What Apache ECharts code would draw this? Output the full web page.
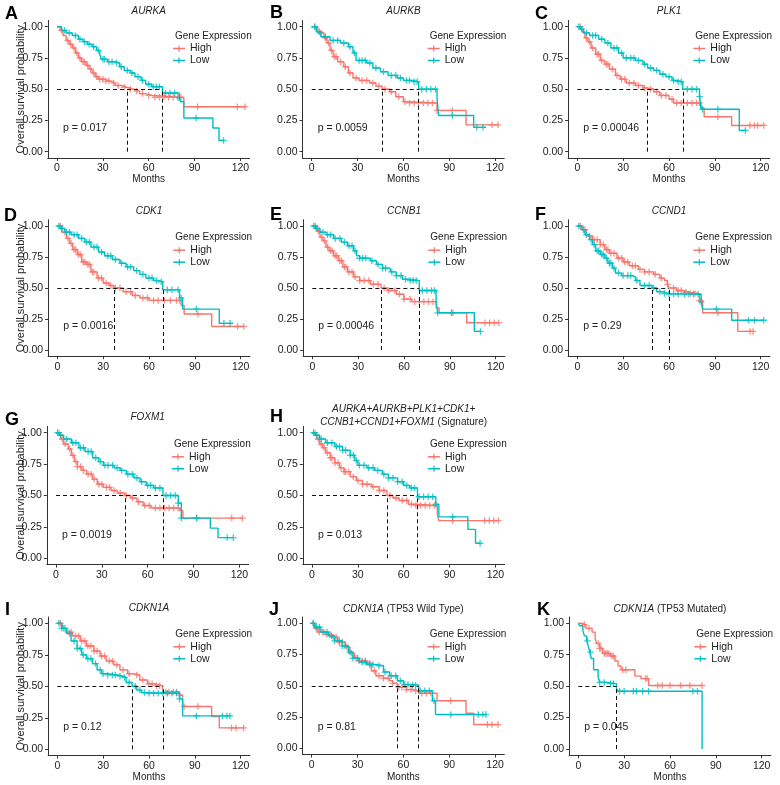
<!DOCTYPE html>
<html><head><meta charset="utf-8">
<script src="https://cdn.jsdelivr.net/npm/echarts@6/dist/echarts.min.js"></script>
<style>html,body{margin:0;padding:0;background:#fff}#c{width:780px;height:785px}</style>
</head><body><div id="c"></div>
<script>
// ---------- tick labels ----------
const xTicks = [0, 30, 60, 90, 120];
const yTicks = [0, 0.25, 0.5, 0.75, 1];

// ---------- survival curves: [months, survival after drop] ----------
const aurkaHigh = [[0,1],[2,0.97],[4,0.93],[6,0.89],[8,0.86],[10,0.83],[12,0.79],[14,0.75],[16,0.72],[19,0.69],[21,0.66],[23,0.63],[25,0.60],[27,0.58],[31,0.565],[35,0.55],[38,0.53],[42,0.515],[46,0.50],[50,0.485],[54,0.465],[58,0.45],[62,0.435],[83,0.36],[123,0.36]];
const aurkaLow = [[0,1],[3,0.97],[6,0.95],[10,0.93],[14,0.9],[17,0.88],[20,0.86],[23,0.84],[26,0.81],[28,0.78],[29,0.74],[33,0.72],[38,0.71],[41,0.68],[44,0.65],[48,0.63],[51,0.6],[55,0.57],[58,0.54],[62,0.52],[69,0.47],[80,0.43],[81,0.4],[83,0.27],[102,0.19],[106,0.09],[109,0.09]];
const aurkaHighCens = [3,7,9,11,13,15,17,18,20,22,24,26,28,30,32,34,37,40,44,48,52,56,60,64,67,70,73,76,79,81,92,118,123];
const aurkaLowCens = [5,8,12,15,18,21,24,27,30,31,34,36,39,42,46,49,53,56,60,63,65,67,71,74,77,80,91,109];

const aurkbHigh = [[0,1],[4,0.95],[8,0.91],[10,0.87],[12,0.81],[14,0.76],[17,0.72],[21,0.68],[24,0.63],[27,0.59],[31,0.57],[38,0.55],[42,0.525],[46,0.5],[51,0.48],[55,0.44],[60,0.4],[63,0.39],[82,0.33],[101,0.215],[122,0.215]];
const aurkbLow = [[0,1],[3,0.96],[6,0.92],[12,0.89],[19,0.87],[24,0.84],[27,0.79],[29,0.73],[36,0.71],[40,0.67],[45,0.64],[50,0.61],[56,0.59],[60,0.57],[66,0.56],[70,0.5],[82,0.43],[83,0.29],[106,0.195],[114,0.195]];
const aurkbHighCens = [2,6,9,11,13,15,16,19,22,25,29,33,36,40,44,48,52,57,61,64,67,70,73,76,79,82,92,118,122];
const aurkbLowCens = [2,5,9,14,17,21,25,28,31,33,35,38,42,47,52,55,58,62,64,67,69,72,75,78,81,92,108,112];

const plk1High = [[0,1],[3,0.96],[5,0.91],[7,0.88],[9,0.83],[12,0.78],[15,0.73],[18,0.7],[21,0.66],[25,0.61],[28,0.58],[32,0.55],[38,0.53],[43,0.51],[46,0.5],[50,0.48],[54,0.45],[60,0.42],[63,0.39],[81,0.35],[83,0.28],[101,0.21],[122,0.21]];
const plk1Low = [[0,1],[2,0.98],[4,0.95],[8,0.93],[14,0.9],[18,0.87],[22,0.83],[27,0.79],[30,0.75],[38,0.73],[43,0.7],[46,0.67],[50,0.65],[54,0.62],[58,0.6],[62,0.57],[65,0.56],[69,0.5],[80,0.44],[81,0.34],[106,0.17],[110,0.17]];
const plk1HighCens = [2,6,8,10,13,14,16,19,20,23,26,29,31,34,37,40,44,48,52,55,58,62,65,68,72,75,78,80,92,113,116,118,122];
const plk1LowCens = [1,3,6,10,12,16,20,24,26,29,32,35,37,40,44,48,52,56,60,63,66,68,72,75,78,80,82,92,110];

const cdk1High = [[0,1],[3,0.95],[6,0.9],[8,0.86],[10,0.81],[13,0.77],[16,0.71],[19,0.69],[22,0.63],[26,0.58],[30,0.54],[34,0.52],[37,0.5],[43,0.47],[49,0.44],[54,0.42],[60,0.4],[81,0.36],[83,0.29],[101,0.19],[122,0.19]];
const cdk1Low = [[0,1],[2,0.98],[5,0.95],[9,0.93],[14,0.9],[18,0.87],[22,0.83],[27,0.79],[31,0.76],[36,0.73],[41,0.7],[45,0.67],[50,0.64],[54,0.61],[58,0.58],[63,0.56],[66,0.55],[69,0.485],[80,0.42],[82,0.33],[106,0.215],[115,0.215]];
const cdk1HighCens = [2,5,7,9,11,12,14,15,17,18,20,21,23,24,27,29,32,35,38,41,45,48,51,56,59,63,66,70,74,78,80,92,118,122];
const cdk1LowCens = [1,3,6,8,11,13,16,19,21,24,26,29,33,35,38,42,46,48,52,56,60,62,65,68,72,75,79,81,91,109,113];

const ccnb1High = [[0,1],[3,0.96],[5,0.91],[7,0.88],[9,0.83],[11,0.8],[14,0.76],[17,0.72],[20,0.67],[23,0.63],[27,0.59],[31,0.56],[38,0.53],[45,0.5],[49,0.48],[55,0.45],[60,0.41],[65,0.39],[81,0.34],[83,0.3],[101,0.22],[122,0.22]];
const ccnb1Low = [[0,1],[2,0.98],[5,0.95],[9,0.93],[14,0.9],[19,0.87],[23,0.84],[27,0.8],[29,0.76],[31,0.74],[38,0.72],[42,0.69],[46,0.66],[51,0.63],[55,0.6],[59,0.57],[64,0.56],[70,0.48],[81,0.4],[82,0.3],[106,0.15],[110,0.15]];
const ccnb1HighCens = [2,4,6,8,10,12,13,15,16,18,19,21,22,24,26,28,31,34,37,40,43,47,50,54,57,60,64,67,70,73,76,79,92,113,116,119,122];
const ccnb1LowCens = [1,3,7,10,12,15,18,21,24,26,28,31,33,35,39,43,46,48,52,55,58,61,64,66,68,72,75,78,80,82,91,110];

const ccnd1High = [[0,1],[3,0.97],[6,0.92],[10,0.89],[15,0.85],[18,0.81],[21,0.78],[26,0.74],[30,0.71],[34,0.68],[40,0.65],[44,0.63],[50,0.61],[54,0.58],[57,0.56],[59,0.53],[60,0.5],[65,0.48],[69,0.465],[74,0.455],[80,0.4],[82,0.3],[105,0.15],[115,0.15]];
const ccnd1Low = [[0,1],[3,0.97],[5,0.93],[8,0.89],[10,0.85],[12,0.8],[15,0.77],[18,0.74],[20,0.7],[23,0.66],[25,0.62],[29,0.6],[36,0.59],[38,0.56],[41,0.52],[49,0.5],[52,0.47],[56,0.455],[60,0.45],[81,0.39],[82,0.33],[101,0.24],[122,0.24]];
const ccnd1HighCens = [2,5,8,11,13,15,17,19,20,22,24,27,29,31,33,36,38,41,44,47,51,55,59,63,66,68,71,74,77,80,92,113,115];
const ccnd1LowCens = [1,4,6,9,11,13,14,16,17,19,21,22,24,27,30,33,35,39,44,47,50,54,57,60,63,66,70,73,76,79,81,91,112,116,122];

const foxm1High = [[0,1],[3,0.95],[5,0.91],[8,0.87],[10,0.82],[12,0.77],[14,0.73],[17,0.7],[20,0.67],[24,0.63],[27,0.59],[31,0.565],[36,0.54],[40,0.52],[45,0.5],[49,0.48],[53,0.45],[57,0.42],[62,0.4],[81,0.38],[83,0.32],[122,0.32]];
const foxm1Low = [[0,1],[2,0.98],[5,0.95],[10,0.92],[15,0.88],[19,0.85],[24,0.8],[28,0.77],[31,0.74],[38,0.72],[42,0.7],[46,0.67],[51,0.64],[55,0.61],[59,0.58],[64,0.56],[70,0.5],[80,0.44],[82,0.32],[101,0.24],[106,0.165],[116,0.165]];
const foxm1HighCens = [2,4,6,9,11,13,14,16,18,21,23,25,28,30,33,35,38,42,46,50,54,58,61,65,68,71,74,77,80,92,115,122];
const foxm1LowCens = [1,3,7,11,13,16,18,21,23,26,29,32,34,37,40,43,47,50,53,56,60,62,65,68,72,75,78,80,82,92,112,116];

const sigHigh = [[0,1],[3,0.95],[5,0.91],[7,0.88],[9,0.84],[12,0.8],[15,0.76],[18,0.72],[21,0.69],[25,0.65],[29,0.62],[33,0.59],[39,0.57],[44,0.54],[49,0.5],[53,0.48],[57,0.46],[63,0.43],[68,0.42],[82,0.35],[83,0.3],[122,0.3]];
const sigLow = [[0,1],[2,0.98],[5,0.95],[9,0.92],[15,0.89],[20,0.86],[25,0.82],[28,0.78],[30,0.74],[36,0.72],[41,0.7],[46,0.67],[50,0.64],[56,0.61],[60,0.58],[64,0.56],[69,0.49],[81,0.43],[83,0.33],[102,0.23],[107,0.12],[110,0.12]];
const sigHighCens = [2,4,6,8,10,12,13,15,17,19,21,22,24,27,30,33,36,40,44,47,51,55,59,62,65,68,71,74,77,80,92,113,116,119,122];
const sigLowCens = [1,3,6,10,13,16,18,20,22,25,27,29,31,34,37,40,43,47,50,53,56,59,62,65,67,70,73,76,79,81,92,110];

const cdkn1aHigh = [[0,1],[3,0.96],[6,0.93],[10,0.9],[15,0.86],[19,0.82],[24,0.78],[28,0.74],[32,0.7],[37,0.67],[41,0.63],[46,0.6],[50,0.59],[54,0.55],[59,0.52],[63,0.505],[69,0.455],[80,0.43],[82,0.34],[101,0.26],[106,0.17],[122,0.17]];
const cdkn1aLow = [[0,1],[3,0.96],[6,0.92],[9,0.86],[13,0.8],[16,0.75],[19,0.72],[23,0.68],[26,0.63],[29,0.6],[33,0.59],[39,0.58],[43,0.57],[45,0.53],[49,0.5],[52,0.47],[55,0.45],[58,0.445],[80,0.4],[82,0.265],[113,0.265]];
const cdkn1aHighCens = [2,4,7,9,12,14,16,18,20,22,24,26,29,31,34,36,39,43,47,52,56,60,62,65,67,71,73,76,78,80,83,92,114,117,122];
const cdkn1aLowCens = [1,3,5,8,11,13,15,17,20,22,25,28,30,33,36,38,41,44,47,51,54,57,60,63,66,69,72,75,78,80,91,108,111,113];

const tp53wtHigh = [[0,1],[2,0.96],[4,0.93],[9,0.91],[13,0.89],[17,0.85],[22,0.81],[25,0.76],[28,0.72],[31,0.7],[36,0.68],[39,0.62],[42,0.58],[47,0.56],[51,0.54],[53,0.52],[56,0.49],[62,0.47],[66,0.46],[70,0.44],[82,0.38],[101,0.28],[106,0.19],[122,0.19]];
const tp53wtLow = [[0,1],[2,0.97],[6,0.93],[11,0.9],[15,0.86],[20,0.82],[24,0.77],[27,0.72],[31,0.69],[36,0.67],[42,0.66],[47,0.61],[51,0.58],[56,0.54],[60,0.51],[64,0.505],[70,0.46],[79,0.38],[81,0.27],[114,0.27]];
const tp53wtHighCens = [1,3,5,7,10,12,14,16,18,20,23,26,29,31,33,35,38,41,44,47,50,53,57,59,62,65,68,72,75,78,91,115,118,122];
const tp53wtLowCens = [1,3,5,8,10,13,15,18,20,22,25,27,30,33,35,38,40,44,48,52,55,58,61,63,66,68,71,74,77,80,91,109,112,114];

const tp53mutHigh = [[0,1],[2,0.99],[5,0.96],[9,0.93],[11,0.88],[12,0.84],[14,0.8],[16,0.76],[21,0.74],[24,0.7],[26,0.66],[28,0.63],[37,0.58],[41,0.56],[46,0.505],[81,0.505]];
const tp53mutLow = [[0,1],[1,0.98],[3,0.94],[4,0.9],[5.5,0.86],[6.5,0.82],[7.5,0.77],[8.5,0.72],[10,0.63],[13,0.57],[14,0.53],[19,0.52],[25,0.48],[26,0.46],[81,0]];
const tp53mutHighCens = [4,7,13,14,15,17,18,19,20,22,23,29,31,44,45,52,55,60,67,73,81];
const tp53mutLowCens = [6,8,14,17,21,23,27,30,36,38,42,46,75,78];

// ---------- panel texts ----------
const panelLetters = ['A','B','C','D','E','F','G','H','I','J','K'];
const panelTitles = [['{i|AURKA}'],['{i|AURKB}'],['{i|PLK1}'],['{i|CDK1}'],['{i|CCNB1}'],['{i|CCND1}'],['{i|FOXM1}'],
  ['{i|AURKA+AURKB+PLK1+CDK1+}','{i|CCNB1+CCND1+FOXM1} (Signature)'],['{i|CDKN1A}'],['{i|CDKN1A} (TP53 Wild Type)'],['{i|CDKN1A} (TP53 Mutated)']];
const pValues = ['0.017','0.0059','0.00046','0.0016','0.00046','0.29','0.0019','0.013','0.12','0.81','0.045'];
const groupNames = ['High','Low'];
const legendTitle = 'Gene Expression';
const xName = 'Months';
const yName = 'Overall survival probability';

const highCurves = [aurkaHigh,aurkbHigh,plk1High,cdk1High,ccnb1High,ccnd1High,foxm1High,sigHigh,cdkn1aHigh,tp53wtHigh,tp53mutHigh];
const lowCurves = [aurkaLow,aurkbLow,plk1Low,cdk1Low,ccnb1Low,ccnd1Low,foxm1Low,sigLow,cdkn1aLow,tp53wtLow,tp53mutLow];
const highCens = [aurkaHighCens,aurkbHighCens,plk1HighCens,cdk1HighCens,ccnb1HighCens,ccnd1HighCens,foxm1HighCens,sigHighCens,cdkn1aHighCens,tp53wtHighCens,tp53mutHighCens];
const lowCens = [aurkaLowCens,aurkbLowCens,plk1LowCens,cdk1LowCens,ccnb1LowCens,ccnd1LowCens,foxm1LowCens,sigLowCens,cdkn1aLowCens,tp53wtLowCens,tp53mutLowCens];

// ---------- layout (pixels) ----------
const RED = '#F8766D', TEAL = '#00BFC4';
const FONT = 'Liberation Sans';
const px0 = [57,311.7,577.3, 57.3,312.3,577.3, 56,312, 57.3,311.7,578.3]; // pixel of month 0
const py1 = [26.7,26.7,26.7, 226,226,226, 432.7,432.7, 623.3,623.3,623.3]; // pixel of 1.00
const py0 = [151.7,151.7,151.7, 350,350,350, 558.3,558.3, 749.3,748.3,749]; // pixel of 0.00
const panelRow = [0,0,0,1,1,1,2,2,3,3,3];
const panelCol = [0,1,2,0,1,2,0,1,0,1,2];
const letterX = [5,270,535,4,270,535,5,270,5,269,537];
const letterY = [14,13.5,14,216,215.5,215,420,417.5,610,610,610];
const titleY = [[11],[11],[11],[211],[211],[211],[417.3],[409.3,422.7],[608.3],[609.3],[609.3]];
const legendY = [36,237.7,444.3,634.3];
const pY = [128,326,535,726.7];
const monthsY = {0:179, 3:777};
const KX = 183.4/120;

function survAt(curve, t){ let s = 1; for (const [tt,ss] of curve){ if (tt <= t) s = ss; } return s; }
function medianOf(curve){ for (const [t,s] of curve){ if (s <= 0.5) return t; } return null; }

const PLUS = 'path://M4,0H6V4H10V6H6V10H4V6H0V4H4Z';
const grids = [], xAxes = [], yAxes = [], series = [], graphics = [];

function txt(x, y, text, opts){
  return Object.assign({type:'text', x:x, y:y, silent:true, z:10,
    style: Object.assign({text:text, fill:'#222', fontFamily:FONT, fontSize:10,
      textAlign:'left', align:'left', textVerticalAlign:'middle', verticalAlign:'middle'}, opts && opts.style || {})},
    opts && opts.el || {});
}

for (let i = 0; i < 11; i++){
  const x0 = px0[i], y1 = py1[i], y0 = py0[i], h = y0 - y1;
  const row = panelRow[i], col = panelCol[i];
  grids.push({left:x0 - 6*KX, top:y1 - 0.05*h, width:132*KX, height:1.1*h, containLabel:false});
  xAxes.push({type:'value', gridIndex:i, min:-6, max:126,
    axisLine:{show:true, onZero:false, lineStyle:{color:'#333', width:1}},
    axisTick:{show:true, length:3, customValues:xTicks, lineStyle:{color:'#333', width:1}},
    axisLabel:{show:true, customValues:xTicks, color:'#222', fontSize:10.5, fontFamily:FONT, margin:5},
    splitLine:{show:false}});
  yAxes.push({type:'value', gridIndex:i, min:-0.05, max:1.05,
    axisLine:{show:true, onZero:false, lineStyle:{color:'#333', width:1}},
    axisTick:{show:true, length:3, customValues:yTicks, lineStyle:{color:'#333', width:1}},
    axisLabel:{show:true, customValues:yTicks, color:'#222', fontSize:10.5, fontFamily:FONT, margin:5,
      formatter: v => Number(v).toFixed(2)},
    splitLine:{show:false}});

  const hi = highCurves[i], lo = lowCurves[i];
  const meds = [medianOf(hi), medianOf(lo)].filter(m => m !== null);
  const mMax = Math.max.apply(null, meds);
  const mlData = [[{coord:[0,0.5]},{coord:[mMax,0.5]}]].concat(meds.map(m => [{coord:[m,0]},{coord:[m,0.5]}]));

  series.push({type:'line', name:groupNames[0], xAxisIndex:i, yAxisIndex:i, data:hi, step:'end',
    symbol:'none', showSymbol:false, lineStyle:{color:RED, width:1.4}, itemStyle:{color:RED}, z:2, silent:true});
  series.push({type:'line', name:groupNames[1], xAxisIndex:i, yAxisIndex:i, data:lo, step:'end',
    symbol:'none', showSymbol:false, lineStyle:{color:TEAL, width:1.4}, itemStyle:{color:TEAL}, z:3, silent:true});
  series.push({type:'scatter', xAxisIndex:i, yAxisIndex:i, data:highCens[i].map(t => [t, survAt(hi,t)]),
    symbol:PLUS, symbolSize:6.5, itemStyle:{color:RED}, z:2, silent:true});
  series.push({type:'scatter', xAxisIndex:i, yAxisIndex:i, data:lowCens[i].map(t => [t, survAt(lo,t)]),
    symbol:PLUS, symbolSize:6.5, itemStyle:{color:TEAL}, z:3, silent:true,
    markLine:{silent:true, symbol:['none','none'], label:{show:false}, animation:false,
      lineStyle:{type:[4,3], color:'#111', width:1}, emphasis:{disabled:true}, data:mlData}});

  // panel letter
  graphics.push(txt(letterX[i], letterY[i], panelLetters[i], {style:{fontSize:18, fontWeight:'bold', fill:'#000'}}));
  // title
  const cx = x0 + 60*KX;
  panelTitles[i].forEach((t, j) => {
    graphics.push(txt(cx, titleY[i][j], t, {style:{textAlign:'center', align:'center', fontSize:10, fill:'#222',
      rich:{i:{fontStyle:'italic', fontSize:10, fontFamily:FONT, fill:'#222'}}}}));
  });
  // legend
  const L = x0 + 118, yT = legendY[row];
  graphics.push(txt(L, yT, legendTitle, {style:{fontSize:10}}));
  [[yT+12.5, RED, groupNames[0]], [yT+24.5, TEAL, groupNames[1]]].forEach(([yy, c, name]) => {
    graphics.push({type:'line', silent:true, z:10, shape:{x1:L-2, y1:yy, x2:L+10, y2:yy}, style:{stroke:c, lineWidth:1.5}});
    graphics.push({type:'line', silent:true, z:10, shape:{x1:L+4, y1:yy-3, x2:L+4, y2:yy+3}, style:{stroke:c, lineWidth:1.2}});
    graphics.push(txt(L+15, yy, name, {style:{fontSize:10.5}}));
  });
  // p-value
  graphics.push(txt(x0 + 6, pY[row], 'p = ' + pValues[i], {style:{fontSize:10.5}}));
  // axis titles
  if (col === 0){
    graphics.push(txt(20.5, (y1 + y0)/2, yName, {el:{rotation:Math.PI/2},
      style:{textAlign:'center', align:'center', fontSize:11}}));
  }
  if (monthsY[row] !== undefined){
    graphics.push(txt(cx, monthsY[row], xName, {style:{textAlign:'center', align:'center', fontSize:10}}));
  }
}

const chart = echarts.init(document.getElementById('c'), null, {renderer:'canvas'});
chart.setOption({
  animation:false,
  backgroundColor:'#fff',
  grid:grids, xAxis:xAxes, yAxis:yAxes, series:series,
  graphic:{elements:graphics}
});
</script>
</body></html>
